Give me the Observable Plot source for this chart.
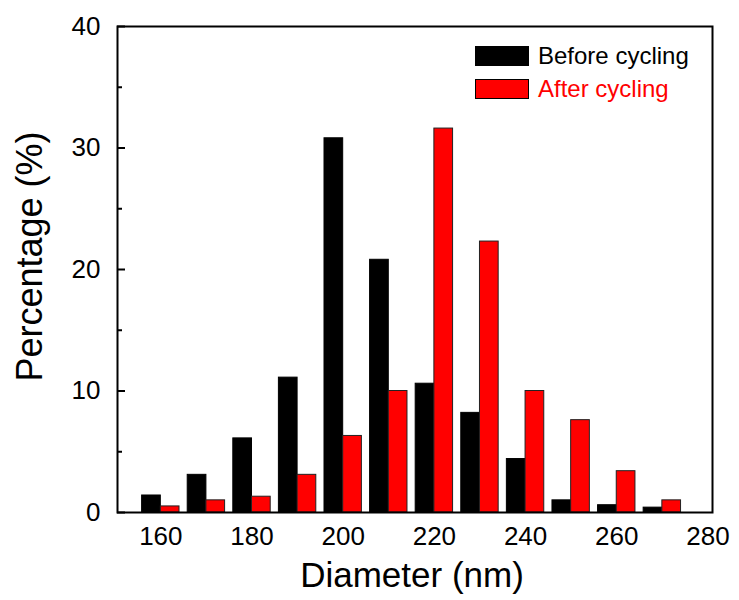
<!DOCTYPE html>
<html><head><meta charset="utf-8">
<script src="https://cdn.jsdelivr.net/npm/d3@7"></script>
<script src="https://cdn.jsdelivr.net/npm/@observablehq/plot@0.6"></script>
<style>
body{margin:0;background:#fff;font-family:"Liberation Sans",Arial,sans-serif;}
#wrap{position:relative;width:739px;height:600px;}
.leg{position:absolute;left:475px;height:20px;display:flex;align-items:center;font-size:24px;line-height:1;white-space:nowrap;}
.sw{width:52px;height:18px;border:1px solid #000;margin-right:9px;box-sizing:content-box;}
</style></head><body><div id="wrap"></div>
<script>
// Data
const bins = [160, 170, 180, 190, 200, 210, 220, 230, 240, 250, 260, 270];
const before = [1.4, 3.1, 6.1, 11.1, 30.8, 20.8, 10.6, 8.2, 4.4, 1.0, 0.6, 0.4];
const after = [0.5, 1.0, 1.3, 3.1, 6.3, 10.0, 31.6, 22.3, 10.0, 7.6, 3.4, 1.0];
const seriesNames = ["Before cycling", "After cycling"];
const xTicks = [160, 180, 200, 220, 240, 260, 280];
const yTicks = [0, 10, 20, 30, 40];
const yMinorTicks = [5, 15, 25, 35];
const xTitle = "Diameter (nm)";
const yTitle = "Percentage (%)";

const barW = 4.1;
const rows = bins.map((b, i) => ({bin: b, before: before[i], after: after[i]}));

const plot = Plot.plot({
  width: 739, height: 600,
  marginLeft: 117, marginRight: 27, marginTop: 26, marginBottom: 88,
  style: {fontFamily: "'Liberation Sans', Arial, sans-serif", background: "white", color: "black"},
  x: {domain: [150.5, 281], label: null},
  y: {domain: [0, 40], label: null},
  marks: [
    Plot.rectY(rows, {x1: d => d.bin - barW, x2: d => d.bin, y: "before", fill: "#000", stroke: "#000", strokeWidth: 1}),
    Plot.rectY(rows, {x1: d => d.bin, x2: d => d.bin + barW, y: "after", fill: "#ff0000", stroke: "#222", strokeWidth: 1}),
    Plot.axisY(yTicks, {tickSize: -8, tickFormat: () => "", strokeWidth: 2, label: null}),
    Plot.axisY(yMinorTicks, {tickSize: -5, tickFormat: () => "", strokeWidth: 2, label: null}),
    Plot.axisY(yTicks, {tickSize: 0, tickPadding: 17, fontSize: 26, label: null}),
    Plot.axisX(xTicks, {tickSize: 0, tickPadding: 14, fontSize: 26, label: null}),
    Plot.frame({stroke: "#000", strokeWidth: 2}),
    Plot.text([xTitle], {text: d => d, frameAnchor: "bottom", dy: 63, dx: -3, fontSize: 35, lineAnchor: "middle", textAnchor: "middle"}),
    Plot.text([yTitle], {text: d => d, frameAnchor: "left", rotate: -90, dx: -87, dy: -13, fontSize: 36, lineAnchor: "middle", textAnchor: "middle"})
  ]
});
const wrap = document.getElementById("wrap");
wrap.appendChild(plot);
const legColors = ["#000", "#ff0000"];
const legTops = [46, 79];
seriesNames.forEach((name, i) => {
  const d = document.createElement("div");
  d.className = "leg";
  d.style.top = legTops[i] + "px";
  d.style.color = legColors[i];
  const sw = document.createElement("div");
  sw.className = "sw";
  sw.style.background = legColors[i];
  d.appendChild(sw);
  d.appendChild(document.createTextNode(name));
  wrap.appendChild(d);
});
</script></body></html>
